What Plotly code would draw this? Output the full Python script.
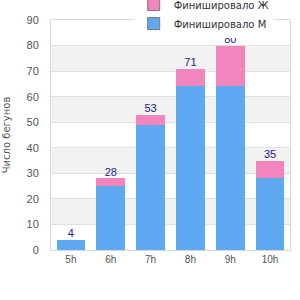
import plotly.graph_objects as go

categories = ["5h", "6h", "7h", "8h", "9h", "10h"]
men = [4, 25, 49, 64, 64, 28]
women = [0, 3, 4, 7, 16, 7]
totals = [m + w for m, w in zip(men, women)]
y_ticks = [0, 10, 20, 30, 40, 50, 60, 70, 80, 90]

blue = "#5fa8f2"
pink = "#f285bd"
sans = "DejaVu Sans"
arial = "Liberation Sans"

fig = go.Figure()
fig.add_trace(go.Bar(x=categories, y=men, name="Финишировало М", showlegend=False,
                     marker=dict(color=blue, line=dict(width=0)), width=0.72))
fig.add_trace(go.Bar(x=categories, y=women, name="Финишировало Ж", showlegend=False,
                     marker=dict(color=pink, line=dict(width=0)), width=0.72))
# legend-only entries (with the grey border of the reference's legend squares)
fig.add_trace(go.Bar(x=[categories[0]], y=[None], name="Финишировало М",
                     marker=dict(color=blue, line=dict(width=1, color="#777777"))))
fig.add_trace(go.Bar(x=[categories[0]], y=[None], name="Финишировало Ж",
                     marker=dict(color=pink, line=dict(width=1, color="#777777"))))
fig.add_trace(go.Scatter(x=categories, y=totals, mode="text",
                         text=[str(t) for t in totals], textposition="top center",
                         textfont=dict(family=arial, size=11, color="#1c1c8c"),
                         showlegend=False, hoverinfo="skip", cliponaxis=False))

shapes = []
for i in range(1, len(y_ticks) - 1, 2):
    shapes.append(dict(type="rect", xref="paper", yref="y", x0=0, x1=1,
                       y0=y_ticks[i], y1=y_ticks[i + 1], fillcolor="#f2f2f2",
                       line=dict(width=0), layer="below"))

fig.update_layout(
    width=300, height=300,
    margin=dict(l=51, r=10, t=20, b=50, autoexpand=False),
    barmode="stack",
    plot_bgcolor="rgba(0,0,0,0)", paper_bgcolor="white",
    font=dict(family=arial, size=11, color="#555555"),
    shapes=shapes,
    legend=dict(traceorder="reversed", x=0.346, y=1.13, xanchor="left", yanchor="top",
                bgcolor="white", font=dict(family=sans, size=10, color="#333333"),
                itemwidth=30, tracegroupgap=0),
    xaxis=dict(showline=True, linecolor="#d9d9d9", linewidth=1, mirror=True,
               ticks="", tickfont=dict(family=arial, size=10, color="#555555")),
    yaxis=dict(range=[0, 90], tickvals=y_ticks, showgrid=True, gridcolor="#e0e0e0",
               showline=True, linecolor="#d9d9d9", linewidth=1, mirror=True,
               zeroline=False, tickfont=dict(family=arial, size=11, color="#555555"),
               ticklabelstandoff=9,
               title=dict(text="Число бегунов",
                          font=dict(family=sans, size=10, color="#555555"),
                          standoff=14)),
)

fig.write_html("out.html")
